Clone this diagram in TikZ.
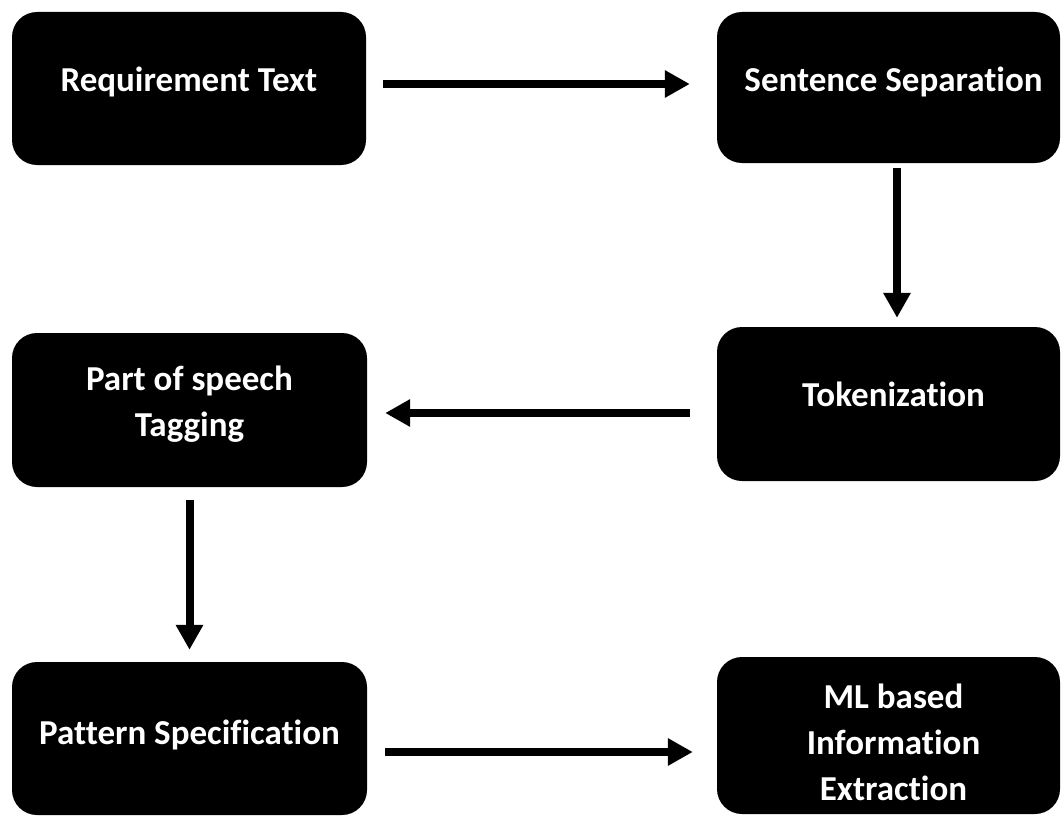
\documentclass[tikz,border=0pt]{standalone}
\usepackage{fontspec}
\setmainfont[Ligatures=NoCommon]{Carlito}
\usetikzlibrary{arrows.meta}
\newcommand{\stagetext}[3]{\hspace*{#1}\raisebox{#2}[0pt][0pt]{\begin{tabular}{@{}c@{}}#3\end{tabular}}}

\begin{document}
\begin{tikzpicture}[x=1pt,y=-1pt]
				    \tikzstyle{stage}=[fill=black,text=white,rounded corners=25pt,inner sep=0pt,font=\bfseries\fontsize{35}{46}\selectfont]
				    \tikzstyle{flow}=[draw,line width=8pt,-{Triangle[length=25pt,width=26pt]},black]
				    \useasboundingbox (0,0) rectangle (1061,816);
				    \node[stage,minimum width=354pt,minimum height=153pt] (req) at (189,88.5) {\stagetext{0pt}{-0.4pt}{Requirement Text}};
				    \node[stage,minimum width=343pt,minimum height=151pt] (sent) at (888.5,87.5) {\stagetext{10pt}{-1.4pt}{Sentence Separation}};
				    \node[stage,minimum width=343pt,minimum height=154pt] (tok) at (888.5,404) {\stagetext{10pt}{0pt}{Tokenization}};
				    \node[stage,minimum width=355pt,minimum height=154pt] (pos) at (189.5,410) {\stagetext{0pt}{-1pt}{Part of speech\\Tagging}};
				    \node[stage,minimum width=355pt,minimum height=153pt] (pat) at (189.5,738.5) {\stagetext{0pt}{-3.4pt}{Pattern Specification}};
				    \node[stage,minimum width=343pt,minimum height=157pt] (ml) at (888.5,735.5) {\stagetext{10pt}{-16pt}{ML based\\Information\\Extraction}};
				    \draw[flow,shorten <=17pt,shorten >=27pt] ([yshift=4.5pt]req.east) -- ([yshift=4.5pt]req.east -| sent.west);
				    \draw[flow,shorten <=5pt,shorten >=9pt] ([xshift=8.5pt]sent.south) -- ([xshift=8.5pt]sent.south |- tok.north);
				    \draw[flow,shorten <=27pt,shorten >=18pt] ([yshift=-9pt]tok.west) -- ([yshift=-9pt]tok.west -| pos.east);
				    \draw[flow,shorten <=13pt,shorten >=12pt] (pos.south) -- (pos.south |- pat.north);
				    \draw[flow,shorten <=18pt,shorten >=24pt] ([yshift=-13.5pt]pat.east) -- ([yshift=-13.5pt]pat.east -| ml.west);
				\end{tikzpicture}
\end{document}
